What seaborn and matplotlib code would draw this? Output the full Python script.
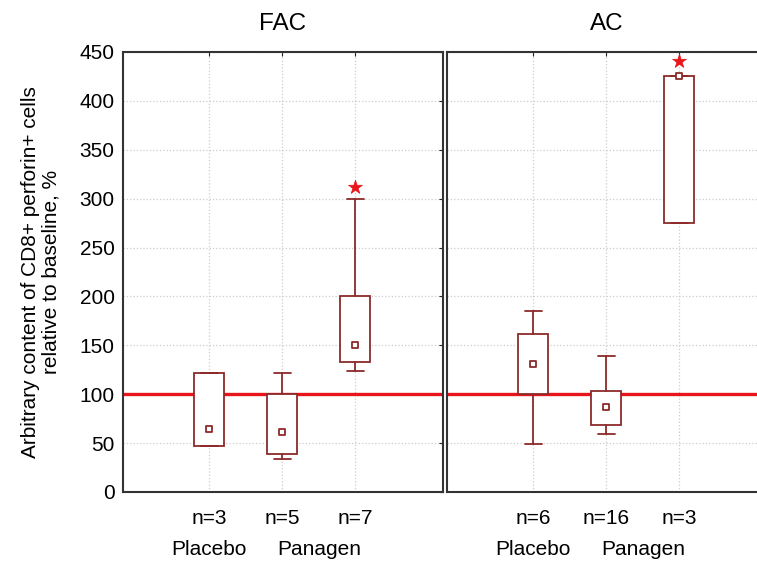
import numpy as np
import pandas as pd
import seaborn as sns
import matplotlib.pyplot as plt
from matplotlib.transforms import blended_transform_factory

# summary values (median, quartile box, min-max whiskers)
labels_fac = ['n=3', 'n=5', 'n=7']
fac_med = [64, 61, 150]
fac_q1 = [47, 39, 133]
fac_q3 = [122, 100, 200]
fac_lo = [47, 34, 124]
fac_hi = [122, 122, 300]
fac_star = [np.nan, np.nan, 312]

labels_ac = ['n=6', 'n=16', 'n=3']
ac_med = [131, 87, 425]
ac_q1 = [100, 68, 275]
ac_q3 = [162, 103, 425]
ac_lo = [49, 59, 275]
ac_hi = [185, 139, 425]
ac_star = [np.nan, np.nan, 441]

groups = ['Placebo', 'Panagen']
group_pos = [0, 1.5]
baseline = 100

sns.set_style('white')
plt.rcParams['font.family'] = ['Liberation Sans', 'DejaVu Sans']
plt.rcParams['text.color'] = 'black'
plt.rcParams['xtick.color'] = 'black'
plt.rcParams['ytick.color'] = 'black'
plt.rcParams['axes.labelcolor'] = 'black'

box_col = '#8c2a2a'
red = '#e8161b'

fig = plt.figure(figsize=(7.57, 5.62), dpi=100)
ax1 = fig.add_axes([0.1625, 0.1246, 0.4227, 0.783])
ax2 = fig.add_axes([0.5905, 0.1246, 0.4227, 0.783])

panels = [
    (ax1, 'FAC', labels_fac, fac_med, fac_q1, fac_q3, fac_lo, fac_hi, fac_star),
    (ax2, 'AC', labels_ac, ac_med, ac_q1, ac_q3, ac_lo, ac_hi, ac_star),
]

for ax, title, labs, med, q1, q3, lo, hi, star in panels:
    pos = np.arange(len(labs))
    ax.axhline(baseline, color=red, lw=2.4, zorder=2)
    stats = [dict(med=m, q1=a, q3=b, whislo=l, whishi=h, fliers=[])
             for m, a, b, l, h in zip(med, q1, q3, lo, hi)]
    ax.bxp(stats, positions=pos, widths=0.41, patch_artist=True,
           showfliers=False, manage_ticks=False,
           boxprops=dict(facecolor='white', edgecolor=box_col, lw=1.3),
           whiskerprops=dict(color=box_col, lw=1.3),
           capprops=dict(color=box_col, lw=1.3),
           medianprops=dict(visible=False), capwidths=0.23, zorder=3)
    df = pd.DataFrame({'x': pos, 'med': med, 'star': star})
    sns.scatterplot(data=df, x='x', y='med', ax=ax, marker='s', s=22,
                    facecolor='white', edgecolor=box_col, linewidth=1.3, zorder=4)
    sns.scatterplot(data=df.dropna(), x='x', y='star', ax=ax, marker='*', s=110,
                    color=red, edgecolor=red, linewidth=0.5, zorder=4)
    ax.set_xlim(-1.18, 3.2)
    ax.set_ylim(0, 450)
    ax.set_yticks(range(0, 451, 50))
    ax.set_xticks(pos)
    ax.set_xticklabels(labs)
    ax.grid(True, color='#cccccc', ls=':', lw=0.9)
    ax.set_axisbelow(True)
    ax.tick_params(direction='in', length=3, top=True, right=True,
                   labelsize=15, pad=6, color='#222222')
    ax.tick_params(axis='x', pad=12)
    for sp in ax.spines.values():
        sp.set_color('#333333')
        sp.set_linewidth(1.5)
    ax.set_xlabel('')
    ax.set_ylabel('')
    ax.set_title(title, fontsize=17.5, pad=16)
    tr = blended_transform_factory(ax.transData, ax.transAxes)
    for g, gx in zip(groups, group_pos):
        ax.text(gx, -0.13, g, transform=tr, ha='center', va='center', fontsize=15)

ax2.tick_params(labelleft=False)
ax2.spines['right'].set_visible(False)
ax1.set_ylabel('Arbitrary content of CD8+ perforin+ cells\nrelative to baseline, %',
               fontsize=15, labelpad=14, linespacing=1.1)

fig.savefig('out.png', dpi=100)
